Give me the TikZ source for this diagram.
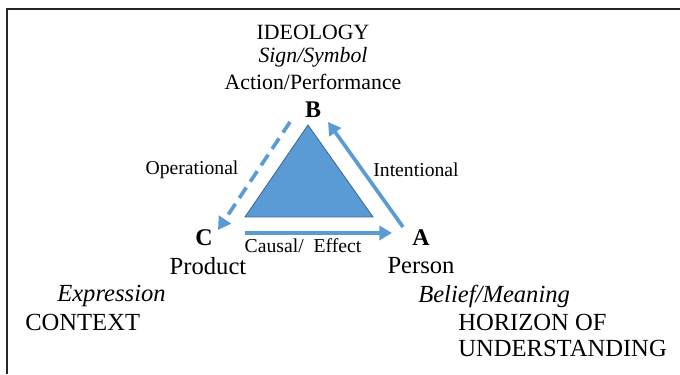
\documentclass[tikz,border=0pt]{standalone}
\usepackage{fontspec}
\setmainfont{Liberation Serif}
\usetikzlibrary{arrows.meta}

\definecolor{triblue}{HTML}{5B9BD5}
\definecolor{triedge}{HTML}{3A6A94}

\begin{document}
\begin{tikzpicture}[
    big/.style={inner sep=0pt, font=\fontsize{15.5}{18}\selectfont},
    low/.style={inner sep=0pt, font=\fontsize{17.5}{20}\selectfont},
    lbl/.style={inner sep=0pt, font=\fontsize{14}{16}\selectfont},
    corner/.style={inner sep=0pt, font=\fontsize{17}{19}\selectfont\bfseries},
    flow/.style={triblue, line width=2.6pt, -{Triangle[length=9pt,width=10pt]}}
  ]
  \useasboundingbox (0, 0) rectangle (17, 9.35);

  % frame
  \draw[line width=1.2pt, black!85] (0.175, 0) -- (0.175, 9.125) -- (17, 9.125);

  % triangle
  \draw[fill=triblue, draw=triedge, line width=0.6pt]
    (7.7, 6.225) -- (9.325, 3.925) -- (6.125, 3.925) -- cycle;

  % corners
  \node[corner] (B) at (7.825, 6.6) {B};
  \node[corner] (C) at (5.1, 3.4) {C};
  \node[corner] (A) at (10.525, 3.4) {A};

  % arrow ends
  \coordinate (ab0) at (10.075, 3.675);
  \coordinate (ab1) at (8.2, 6.3);
  \coordinate (bc0) at (7.25, 6.3);
  \coordinate (bc1) at (5.45, 3.6);
  \coordinate (ca0) at (6.125, 3.525);
  \coordinate (ca1) at (9.8, 3.525);

  \draw[flow] (ab0) -- (ab1);
  \draw[flow, dash pattern=on 9pt off 5pt] (bc0) -- (bc1);
  \draw[flow] (ca0) -- (ca1);

  % edge labels
  \node[lbl] (oper) at (4.8, 5.1) {Operational};
  \node[lbl] (inten) at (10.4, 5.1) {Intentional};
  \node[lbl] (cause) at (7.575, 3.2) {Causal/\ \ Effect};

  % top
  \node[big] (ideo) at (7.825, 8.55) {IDEOLOGY};
  \node[big] (sign) at (7.825, 7.925) {\itshape Sign/Symbol};
  \node[big] (act) at (7.825, 7.3) {Action/Performance};

  % bottom left
  \node[low] (prod) at (5.2, 2.7) {Product};
  \node[low, anchor=west] (expr) at (1.425, 1.95) {\itshape Expression};
  \node[low, anchor=west] (ctx) at (0.625, 1.3) {CONTEXT};

  % bottom right
  \node[low] (pers) at (10.525, 2.7) {Person};
  \node[low, anchor=west] (belief) at (10.45, 1.95) {\itshape Belief/Meaning};
  \node[low, anchor=west] (hor) at (11.45, 1.3) {HORIZON OF};
  \node[low, anchor=west] (und) at (11.45, 0.65) {UNDERSTANDING};
\end{tikzpicture}
\end{document}
